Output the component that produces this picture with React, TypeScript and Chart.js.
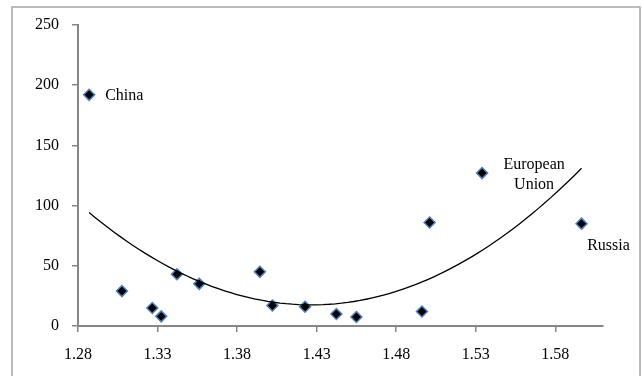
import React, { useEffect, useRef } from "react";
import { Chart, registerables } from "chart.js";

Chart.register(...registerables);

// Scatter data
const X_VALUES = [1.287, 1.3076, 1.3267, 1.3323, 1.3422, 1.3562, 1.3943, 1.4022, 1.4227, 1.4424, 1.455, 1.4962, 1.501, 1.534, 1.5965];
const Y_VALUES = [192, 29, 15, 8, 43, 35, 45, 17, 16, 10, 7.5, 12, 86, 127, 85];
const POINT_LABELS = ["China", "", "", "", "", "", "", "", "", "", "", "", "", "European\nUnion", "Russia"];

const X_TICKS = [1.28, 1.33, 1.38, 1.43, 1.48, 1.53, 1.58];
const X_MIN = 1.28;
const X_MAX = 1.61;
const Y_TICKS = [0, 50, 100, 150, 200, 250];

// Polynomial (order 2) trendline: least-squares fit of the data
function fitQuadratic(xs: number[], ys: number[]) {
  const n = xs.length;
  const m = xs.reduce((a, b) => a + b, 0) / n;
  let s = [0, 0, 0, 0, 0];
  let t = [0, 0, 0];
  for (let i = 0; i < n; i++) {
    const u = xs[i] - m;
    for (let k = 0; k < 5; k++) s[k] += Math.pow(u, k);
    for (let k = 0; k < 3; k++) t[k] += ys[i] * Math.pow(u, k);
  }
  const M = [
    [s[0], s[1], s[2], t[0]],
    [s[1], s[2], s[3], t[1]],
    [s[2], s[3], s[4], t[2]],
  ];
  for (let c = 0; c < 3; c++) {
    for (let r = c + 1; r < 3; r++) {
      const f = M[r][c] / M[c][c];
      for (let k = c; k < 4; k++) M[r][k] -= f * M[c][k];
    }
  }
  const coef = [0, 0, 0];
  for (let r = 2; r >= 0; r--) {
    let v = M[r][3];
    for (let k = r + 1; k < 3; k++) v -= M[r][k] * coef[k];
    coef[r] = v / M[r][r];
  }
  return (x: number) => coef[0] + coef[1] * (x - m) + coef[2] * (x - m) * (x - m);
}

const FONT = "'Liberation Serif', 'Times New Roman', serif";

export default function App() {
  const ref = useRef<HTMLCanvasElement | null>(null);

  useEffect(() => {
    if (!ref.current) return;
    const f = fitQuadratic(X_VALUES, Y_VALUES);
    const xLo = Math.min(...X_VALUES);
    const xHi = Math.max(...X_VALUES);
    const trend: { x: number; y: number }[] = [];
    const N = 80;
    for (let i = 0; i <= N; i++) {
      const x = xLo + ((xHi - xLo) * i) / N;
      trend.push({ x, y: f(x) });
    }

    const labelPlugin = {
      id: "pointLabels",
      afterDatasetsDraw(chart: any) {
        const ctx = chart.ctx;
        const meta = chart.getDatasetMeta(1);
        ctx.save();
        ctx.font = `16px ${FONT}`;
        ctx.fillStyle = "#000";
        ctx.textBaseline = "middle";
        POINT_LABELS.forEach((lab, i) => {
          if (!lab) return;
          const el = meta.data[i];
          const lines = lab.split("\n");
          if (i === 0) {
            ctx.textAlign = "left";
            ctx.fillText(lines[0], el.x + 16, el.y + 1);
          } else if (lines.length === 2) {
            ctx.textAlign = "center";
            ctx.fillText(lines[0], el.x + 52, el.y - 8);
            ctx.fillText(lines[1], el.x + 52, el.y + 12);
          } else {
            ctx.textAlign = "center";
            ctx.fillText(lines[0], el.x + 27, el.y + 22);
          }
        });
        ctx.restore();
      },
    };

    const borderPlugin = {
      id: "outerBorder",
      afterDraw(chart: any) {
        const ctx = chart.ctx;
        ctx.save();
        ctx.strokeStyle = "#a6a6a6";
        ctx.lineWidth = 1.5;
        ctx.strokeRect(12, 7, 628, 380);
        ctx.restore();
      },
    };

    const chart = new Chart(ref.current, {
      type: "scatter",
      data: {
        datasets: [
          {
            label: "Trend",
            data: trend,
            showLine: true,
            borderColor: "#000",
            borderWidth: 1.3,
            pointRadius: 0,
            tension: 0,
            fill: false,
          },
          {
            label: "Countries",
            data: X_VALUES.map((x, i) => ({ x, y: Y_VALUES[i] })),
            pointStyle: "rectRot",
            pointRadius: 5.5,
            backgroundColor: "#000",
            borderColor: "#4f81bd",
            borderWidth: 1.5,
          },
        ],
      },
      options: {
        responsive: false,
        animation: false,
        events: [],
        layout: { padding: { left: 0, right: 39, top: 25, bottom: 0 } },
        plugins: { legend: { display: false }, tooltip: { enabled: false } },
        scales: {
          x: {
            type: "linear",
            min: X_MIN,
            max: X_MAX,
            afterBuildTicks: (s: any) => {
              s.ticks = X_TICKS.map((v) => ({ value: v }));
            },
            afterFit: (s: any) => {
              s.height = 50;
            },
            grid: { drawOnChartArea: false, drawTicks: true, tickLength: 6, color: "#868686", lineWidth: 1.5 },
            border: { display: true, color: "#868686", width: 2 },
            ticks: {
              color: "#000",
              font: { family: FONT, size: 16 },
              padding: 13,
              maxRotation: 0,
              autoSkip: false,
              callback: (v: any) => Number(v).toFixed(2),
            },
          },
          y: {
            type: "linear",
            min: 0,
            max: 250,
            afterBuildTicks: (s: any) => {
              s.ticks = Y_TICKS.map((v) => ({ value: v }));
            },
            afterFit: (s: any) => {
              s.width = 78;
            },
            grid: { drawOnChartArea: false, drawTicks: true, tickLength: 6, color: "#868686", lineWidth: 1.5 },
            border: { display: true, color: "#868686", width: 2 },
            ticks: {
              color: "#000",
              font: { family: FONT, size: 16 },
              padding: 13,
              autoSkip: false,
            },
          },
        },
      },
      plugins: [labelPlugin, borderPlugin],
    });
    return () => chart.destroy();
  }, []);

  return (
    <div style={{ position: "fixed", left: 0, top: 0, width: 642, height: 376, background: "#fff" }}>
      <canvas ref={ref} width={642} height={376} style={{ display: "block" }} />
    </div>
  );
}
